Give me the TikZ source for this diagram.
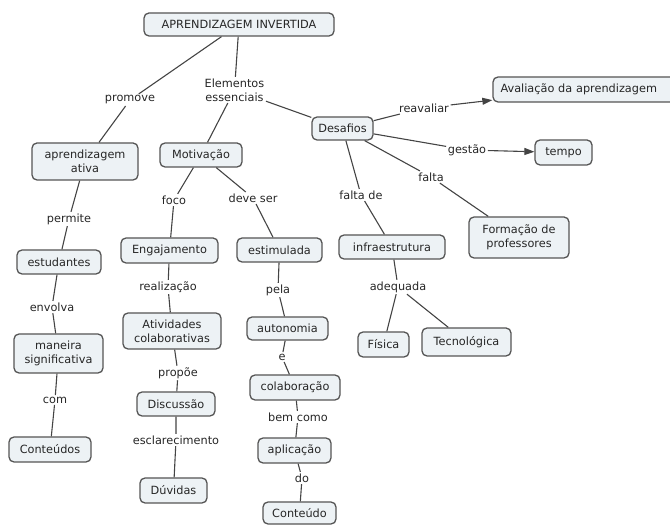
\documentclass[tikz,border=0pt]{standalone}
\usepackage{fontspec}
\setmainfont{DejaVu Sans}
\usetikzlibrary{arrows.meta}
\definecolor{boxfill}{HTML}{EDF2F5}
\definecolor{boxline}{HTML}{555555}
\definecolor{ink}{HTML}{262626}
\definecolor{wirecol}{HTML}{444444}
\tikzset{
  concept/.style={draw=boxline, line width=1.3pt, fill=boxfill, rounded corners=5pt,
    text=ink, align=center, inner sep=2pt, font=\fontsize{11.3}{14}\selectfont},
  sz/.style 2 args={minimum width=#1pt, minimum height=#2pt},
  linkword/.style={text=ink, align=center, inner sep=1.5pt, font=\fontsize{11.3}{14}\selectfont},
  wire/.style={draw=wirecol, line width=1.1pt},
  arrowwire/.style={wire, -{Triangle[length=10pt,width=7pt]}}
}
\begin{document}
\begin{tikzpicture}[x=1pt,y=-1pt]
\useasboundingbox (0,0) rectangle (670,526);
\clip (0,0) rectangle (670,526);

% concepts
\node[concept, sz={190}{23}] (top) at (239,24.5) {APRENDIZAGEM INVERTIDA};
\node[concept, sz={106}{37}] (aativa) at (85,161.5) {aprendizagem\\ativa};
\node[concept, sz={82}{24}] (motiv) at (201,155) {Motivação};
\node[concept, sz={61}{23}] (desaf) at (342.5,128.5) {Desafios};
\node[concept, sz={185}{25}, text width=170pt, align=left] (aval) at (585.5,89.5) {Avaliação da aprendizagem};
\node[concept, sz={57}{25}] (tempo) at (563.5,152.5) {tempo};
\node[concept, sz={100}{41}] (formacao) at (519,237.5) {Formação de\\professores};
\node[concept, sz={106}{24}] (infra) at (392,247) {infraestrutura};
\node[concept, sz={51}{25}] (fisica) at (383.5,344.5) {Física};
\node[concept, sz={89}{28}] (tecno) at (466.5,342) {Tecnológica};
\node[concept, sz={84}{24}] (estud) at (59,262) {estudantes};
\node[concept, sz={89}{39}] (maneira) at (58.5,353.5) {maneira\\significativa};
\node[concept, sz={82}{25}] (conteudos) at (50,449.5) {Conteúdos};
\node[concept, sz={97}{25}] (engaj) at (169.5,250.5) {Engajamento};
\node[concept, sz={85}{24}] (estim) at (279.5,250) {estimulada};
\node[concept, sz={98}{36}] (ativ) at (172,331) {Atividades\\colaborativas};
\node[concept, sz={81}{23}] (auton) at (287.5,328.5) {autonomia};
\node[concept, sz={78}{24}] (discus) at (176,404) {Discussão};
\node[concept, sz={67}{25}] (duvidas) at (173.5,490.5) {Dúvidas};
\node[concept, sz={90}{25}] (colab) at (295,387.5) {colaboração};
\node[concept, sz={73}{25}] (aplic) at (294.5,450.5) {aplicação};
\node[concept, sz={73}{22}] (conteudo) at (299.5,513) {Conteúdo};

% linking phrases
\node[linkword] (promove) at (130,100) {promove};
\node[linkword] (elem) at (234.5,90) {Elementos\\essenciais};
\node[linkword] (reav) at (424,108) {reavaliar};
\node[linkword] (gestao) at (467,150) {gestão};
\node[linkword] (falta) at (431,177) {falta};
\node[linkword] (faltade) at (361,195) {falta de};
\node[linkword] (adeq) at (398,287) {adequada};
\node[linkword] (permite) at (69,219) {permite};
\node[linkword] (envolva) at (52,307) {envolva};
\node[linkword] (com) at (55,400) {com};
\node[linkword] (foco) at (174,200) {foco};
\node[linkword] (deveser) at (253,198) {deve ser};
\node[linkword] (realiz) at (168,287) {realização};
\node[linkword] (pela) at (278,290) {pela};
\node[linkword] (propoe) at (178,373) {propõe};
\node[linkword] (esclar) at (176,440) {esclarecimento};
\node[linkword] (e) at (282,357) {e};
\node[linkword] (bemcomo) at (298,417) {bem como};
\node[linkword] (do) at (302,478) {do};

% connectors
\draw[wire] (top) -- (promove) -- (aativa);
\draw[wire] (top) -- (elem);
\draw[wire] (elem) -- (motiv);
\draw[wire] (elem) -- (desaf);
\draw[wire] (desaf) -- (reav);
\draw[arrowwire] (reav) -- (aval);
\draw[wire] (desaf) -- (gestao);
\draw[arrowwire] (gestao) -- (tempo);
\draw[wire] (desaf) -- (falta) -- (formacao);
\draw[wire] (desaf) -- (faltade) -- (infra);
\draw[wire] (infra) -- (adeq);
\draw[wire] (adeq) -- (fisica);
\draw[wire] (adeq) -- (tecno);
\draw[wire] (aativa) -- (permite) -- (estud);
\draw[wire] (estud) -- (envolva) -- (maneira);
\draw[wire] (maneira) -- (com) -- (conteudos);
\draw[wire] (motiv) -- (foco) -- (engaj);
\draw[wire] (motiv) -- (deveser) -- (estim);
\draw[wire] (engaj) -- (realiz) -- (ativ);
\draw[wire] (ativ) -- (propoe) -- (discus);
\draw[wire] (discus) -- (esclar) -- (duvidas);
\draw[wire] (estim) -- (pela) -- (auton);
\draw[wire] (auton) -- (e) -- (colab);
\draw[wire] (colab) -- (bemcomo) -- (aplic);
\draw[wire] (aplic) -- (do) -- (conteudo);
\end{tikzpicture}
\end{document}
